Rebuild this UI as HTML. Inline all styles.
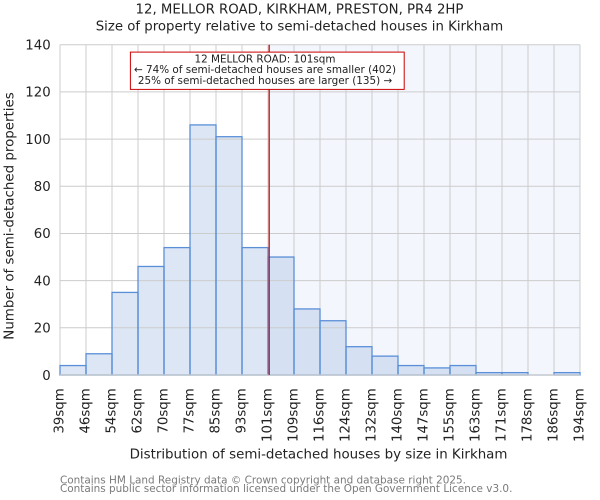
<!DOCTYPE html>
<html><head><meta charset="utf-8"><style>
html,body{margin:0;padding:0;background:#fff;}
svg{display:block;}
text{font-family:"DejaVu Sans","Liberation Sans",sans-serif;fill:#222;}
</style></head><body>
<svg width="600" height="500" viewBox="0 0 600 500" xmlns="http://www.w3.org/2000/svg">
<rect x="0" y="0" width="600" height="500" fill="#fff"/>
<!-- shaded region -->
<rect x="269" y="44.7" width="311" height="330.3" fill="#f3f6fd"/>
<!-- bar fills -->
<g fill="#dde6f4">
<rect x="60" y="365.56" width="26" height="9.44"/>
<rect x="86" y="353.77" width="26" height="21.23"/>
<rect x="112" y="292.42" width="26" height="82.58"/>
<rect x="138" y="266.47" width="26" height="108.53"/>
<rect x="164" y="247.6" width="26" height="127.4"/>
<rect x="190" y="124.91" width="26" height="250.09"/>
<rect x="216" y="136.71" width="26" height="238.29"/>
<rect x="242" y="247.6" width="26" height="127.4"/>
</g>
<g fill="#d5e1f3">
<rect x="268" y="257.03" width="26" height="117.97"/>
<rect x="294" y="308.94" width="26" height="66.06"/>
<rect x="320" y="320.74" width="26" height="54.26"/>
<rect x="346" y="346.69" width="26" height="28.31"/>
<rect x="372" y="356.13" width="26" height="18.87"/>
<rect x="398" y="365.56" width="26" height="9.44"/>
<rect x="424" y="367.92" width="26" height="7.08"/>
<rect x="450" y="365.56" width="26" height="9.44"/>
<rect x="476" y="372.64" width="26" height="2.36"/>
<rect x="502" y="372.64" width="26" height="2.36"/>
<rect x="554" y="372.64" width="26" height="2.36"/>
</g>
<!-- grid -->
<g stroke="#cccccc" stroke-width="1" fill="none">
<line x1="60" y1="327.81" x2="580" y2="327.81"/>
<line x1="60" y1="280.63" x2="580" y2="280.63"/>
<line x1="60" y1="233.44" x2="580" y2="233.44"/>
<line x1="60" y1="186.25" x2="580" y2="186.25"/>
<line x1="60" y1="139.07" x2="580" y2="139.07"/>
<line x1="60" y1="91.88" x2="580" y2="91.88"/>
<line x1="60" y1="44.7" x2="580" y2="44.7"/>
<line x1="60" y1="44.7" x2="60" y2="375"/>
<line x1="86" y1="44.7" x2="86" y2="375"/>
<line x1="112" y1="44.7" x2="112" y2="375"/>
<line x1="138" y1="44.7" x2="138" y2="375"/>
<line x1="164" y1="44.7" x2="164" y2="375"/>
<line x1="190" y1="44.7" x2="190" y2="375"/>
<line x1="216" y1="44.7" x2="216" y2="375"/>
<line x1="242" y1="44.7" x2="242" y2="375"/>
<line x1="268" y1="44.7" x2="268" y2="375"/>
<line x1="294" y1="44.7" x2="294" y2="375"/>
<line x1="320" y1="44.7" x2="320" y2="375"/>
<line x1="346" y1="44.7" x2="346" y2="375"/>
<line x1="372" y1="44.7" x2="372" y2="375"/>
<line x1="398" y1="44.7" x2="398" y2="375"/>
<line x1="424" y1="44.7" x2="424" y2="375"/>
<line x1="450" y1="44.7" x2="450" y2="375"/>
<line x1="476" y1="44.7" x2="476" y2="375"/>
<line x1="502" y1="44.7" x2="502" y2="375"/>
<line x1="528" y1="44.7" x2="528" y2="375"/>
<line x1="554" y1="44.7" x2="554" y2="375"/>
<line x1="580" y1="44.7" x2="580" y2="375"/>
</g>
<!-- bar outlines -->
<g fill="none" stroke="#5a8fd8" stroke-width="1.3">
<rect x="60" y="365.56" width="26" height="9.44"/>
<rect x="86" y="353.77" width="26" height="21.23"/>
<rect x="112" y="292.42" width="26" height="82.58"/>
<rect x="138" y="266.47" width="26" height="108.53"/>
<rect x="164" y="247.6" width="26" height="127.4"/>
<rect x="190" y="124.91" width="26" height="250.09"/>
<rect x="216" y="136.71" width="26" height="238.29"/>
<rect x="242" y="247.6" width="26" height="127.4"/>
<rect x="268" y="257.03" width="26" height="117.97"/>
<rect x="294" y="308.94" width="26" height="66.06"/>
<rect x="320" y="320.74" width="26" height="54.26"/>
<rect x="346" y="346.69" width="26" height="28.31"/>
<rect x="372" y="356.13" width="26" height="18.87"/>
<rect x="398" y="365.56" width="26" height="9.44"/>
<rect x="424" y="367.92" width="26" height="7.08"/>
<rect x="450" y="365.56" width="26" height="9.44"/>
<rect x="476" y="372.64" width="26" height="2.36"/>
<rect x="502" y="372.64" width="26" height="2.36"/>
<rect x="554" y="372.64" width="26" height="2.36"/>
</g>
<line x1="60" y1="375" x2="580" y2="375" stroke="#c4c8d0" stroke-width="1.4"/>
<!-- red marker -->
<line x1="269.2" y1="44.7" x2="269.2" y2="375" stroke="#cc0000" stroke-width="1.2"/>
<!-- annotation -->
<rect x="130.4" y="52.1" width="273.8" height="37.3" fill="#fff" stroke="#cc0000" stroke-width="1"/>
<g font-size="10.4" text-anchor="middle">
<text x="265" y="62.3">12 MELLOR ROAD: 101sqm</text>
<text x="265" y="73.2">← 74% of semi-detached houses are smaller (402)</text>
<text x="265" y="84">25% of semi-detached houses are larger (135) →</text>
</g>
<!-- title -->
<g font-size="13.3" text-anchor="middle">
<text x="299.5" y="13.5">12, MELLOR ROAD, KIRKHAM, PRESTON, PR4 2HP</text>
<text x="299.5" y="30.5">Size of property relative to semi-detached houses in Kirkham</text>
</g>
<!-- y tick labels -->
<g font-size="13.3" text-anchor="end">
<text x="50.7" y="379.8">0</text>
<text x="50.7" y="332.6">20</text>
<text x="50.7" y="285.4">40</text>
<text x="50.7" y="238.2">60</text>
<text x="50.7" y="191">80</text>
<text x="50.7" y="143.9">100</text>
<text x="50.7" y="96.7">120</text>
<text x="50.7" y="49.5">140</text>
</g>
<!-- x tick labels -->
<g font-size="13.3" text-anchor="end">
<text transform="translate(63.5,388.3) rotate(-90)">39sqm</text>
<text transform="translate(89.5,388.3) rotate(-90)">46sqm</text>
<text transform="translate(115.5,388.3) rotate(-90)">54sqm</text>
<text transform="translate(141.5,388.3) rotate(-90)">62sqm</text>
<text transform="translate(167.5,388.3) rotate(-90)">70sqm</text>
<text transform="translate(193.5,388.3) rotate(-90)">77sqm</text>
<text transform="translate(219.5,388.3) rotate(-90)">85sqm</text>
<text transform="translate(245.5,388.3) rotate(-90)">93sqm</text>
<text transform="translate(271.5,388.3) rotate(-90)">101sqm</text>
<text transform="translate(297.5,388.3) rotate(-90)">109sqm</text>
<text transform="translate(323.5,388.3) rotate(-90)">116sqm</text>
<text transform="translate(349.5,388.3) rotate(-90)">124sqm</text>
<text transform="translate(375.5,388.3) rotate(-90)">132sqm</text>
<text transform="translate(401.5,388.3) rotate(-90)">140sqm</text>
<text transform="translate(427.5,388.3) rotate(-90)">147sqm</text>
<text transform="translate(453.5,388.3) rotate(-90)">155sqm</text>
<text transform="translate(479.5,388.3) rotate(-90)">163sqm</text>
<text transform="translate(505.5,388.3) rotate(-90)">171sqm</text>
<text transform="translate(531.5,388.3) rotate(-90)">178sqm</text>
<text transform="translate(557.5,388.3) rotate(-90)">186sqm</text>
<text transform="translate(583.5,388.3) rotate(-90)">194sqm</text>
</g>
<!-- axis labels -->
<text x="318.5" y="458.3" font-size="13.4" text-anchor="middle">Distribution of semi-detached houses by size in Kirkham</text>
<text transform="translate(13.3,216) rotate(-90)" font-size="13.4" text-anchor="middle">Number of semi-detached properties</text>
<!-- footer -->
<g font-size="10.45">
<text x="60" y="483.3" style="fill:#7a7a7a">Contains HM Land Registry data © Crown copyright and database right 2025.</text>
<text x="60" y="492" style="fill:#7a7a7a">Contains public sector information licensed under the Open Government Licence v3.0.</text>
</g>
</svg>
</body></html>
